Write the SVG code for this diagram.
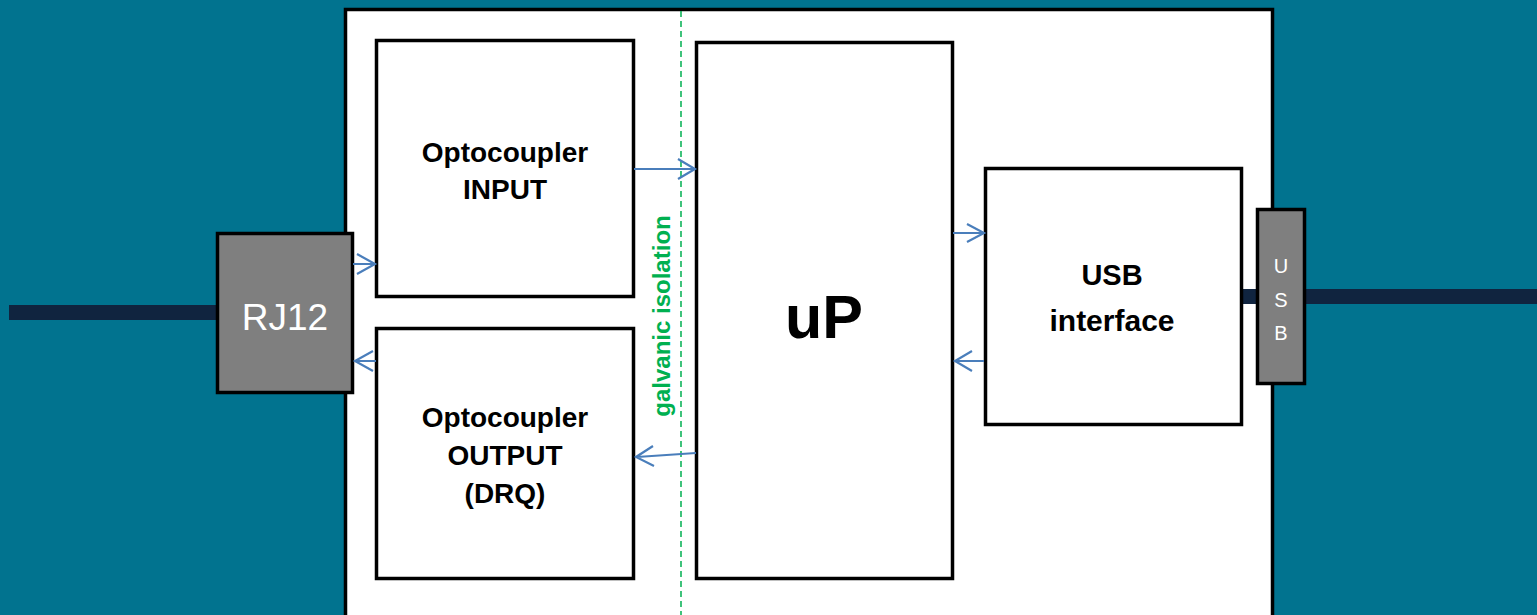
<svg xmlns="http://www.w3.org/2000/svg" width="1537" height="615" viewBox="0 0 1537 615">
<defs>
<style>
.box{fill:#fff;stroke:#000;stroke-width:3.5}
.conn{fill:#7f7f7f;stroke:#000;stroke-width:3.5}
.lbl{font-family:"Liberation Sans",Arial,sans-serif;font-weight:bold;fill:#000;text-anchor:middle}
.wl{font-family:"Liberation Sans",Arial,sans-serif;fill:#fff;text-anchor:middle}
.arr{stroke:#4a7ebb;stroke-width:2.2;fill:none}
.cable{fill:#10243f}
</style>
</defs>
<rect x="0" y="0" width="1537" height="615" fill="#01738f"/>
<rect x="9" y="305" width="210" height="15" class="cable"/>
<g id="enclosure"><rect x="345.5" y="9.5" width="927" height="620" class="box"/></g>
<rect x="1243" y="289" width="294" height="15" class="cable"/>
<g id="isolation">
<line x1="681" y1="11" x2="681" y2="615" stroke="#00b050" stroke-width="1.5" stroke-dasharray="6,4"/>
<text transform="translate(670,316) rotate(-90)" font-family="Liberation Sans,Arial,sans-serif" font-weight="bold" font-size="24" fill="#00b050" text-anchor="middle">galvanic isolation</text>
</g>
<g id="rj12">
<rect x="217.5" y="233.5" width="135" height="159" class="conn"/>
<text x="285" y="330" class="wl" font-size="37">RJ12</text>
</g>
<g id="opto-input">
<rect x="376.5" y="40.5" width="257" height="256" class="box"/>
<text x="505" y="162" class="lbl" font-size="28">Optocoupler</text>
<text x="505" y="199" class="lbl" font-size="28">INPUT</text>
</g>
<g id="opto-output">
<rect x="376.5" y="328.5" width="257" height="250" class="box"/>
<text x="505" y="427" class="lbl" font-size="28">Optocoupler</text>
<text x="505" y="465" class="lbl" font-size="28">OUTPUT</text>
<text x="505" y="503" class="lbl" font-size="28">(DRQ)</text>
</g>
<g id="up">
<rect x="696.5" y="42.5" width="256" height="536" class="box"/>
<text x="824" y="338" class="lbl" font-size="61">uP</text>
</g>
<g id="usb-interface">
<rect x="985.5" y="168.5" width="256" height="256" class="box"/>
<text x="1112" y="285" class="lbl" font-size="29">USB</text>
<text x="1112" y="331" class="lbl" font-size="30">interface</text>
</g>
<g id="usb">
<rect x="1257.5" y="209.5" width="47" height="174" class="conn"/>
<text x="1281" y="273" class="wl" font-size="20">U</text>
<text x="1281" y="307" class="wl" font-size="20">S</text>
<text x="1281" y="340" class="wl" font-size="20">B</text>
</g>
<g id="connectors">
<path class="arr" d="M634 169H694M678 159L695 169L678 179"/>
<path class="arr" d="M353 264H374M357 254L375 264L357 274"/>
<path class="arr" d="M376 361H355M373 351L355 361L373 371"/>
<path class="arr" d="M696 453L637 457M653 446L636 457L654 466"/>
<path class="arr" d="M953 233H983M967 224L984 233L967 242"/>
<path class="arr" d="M984 361H956M972 351L955 361L972 371"/>
</g>
</svg>
